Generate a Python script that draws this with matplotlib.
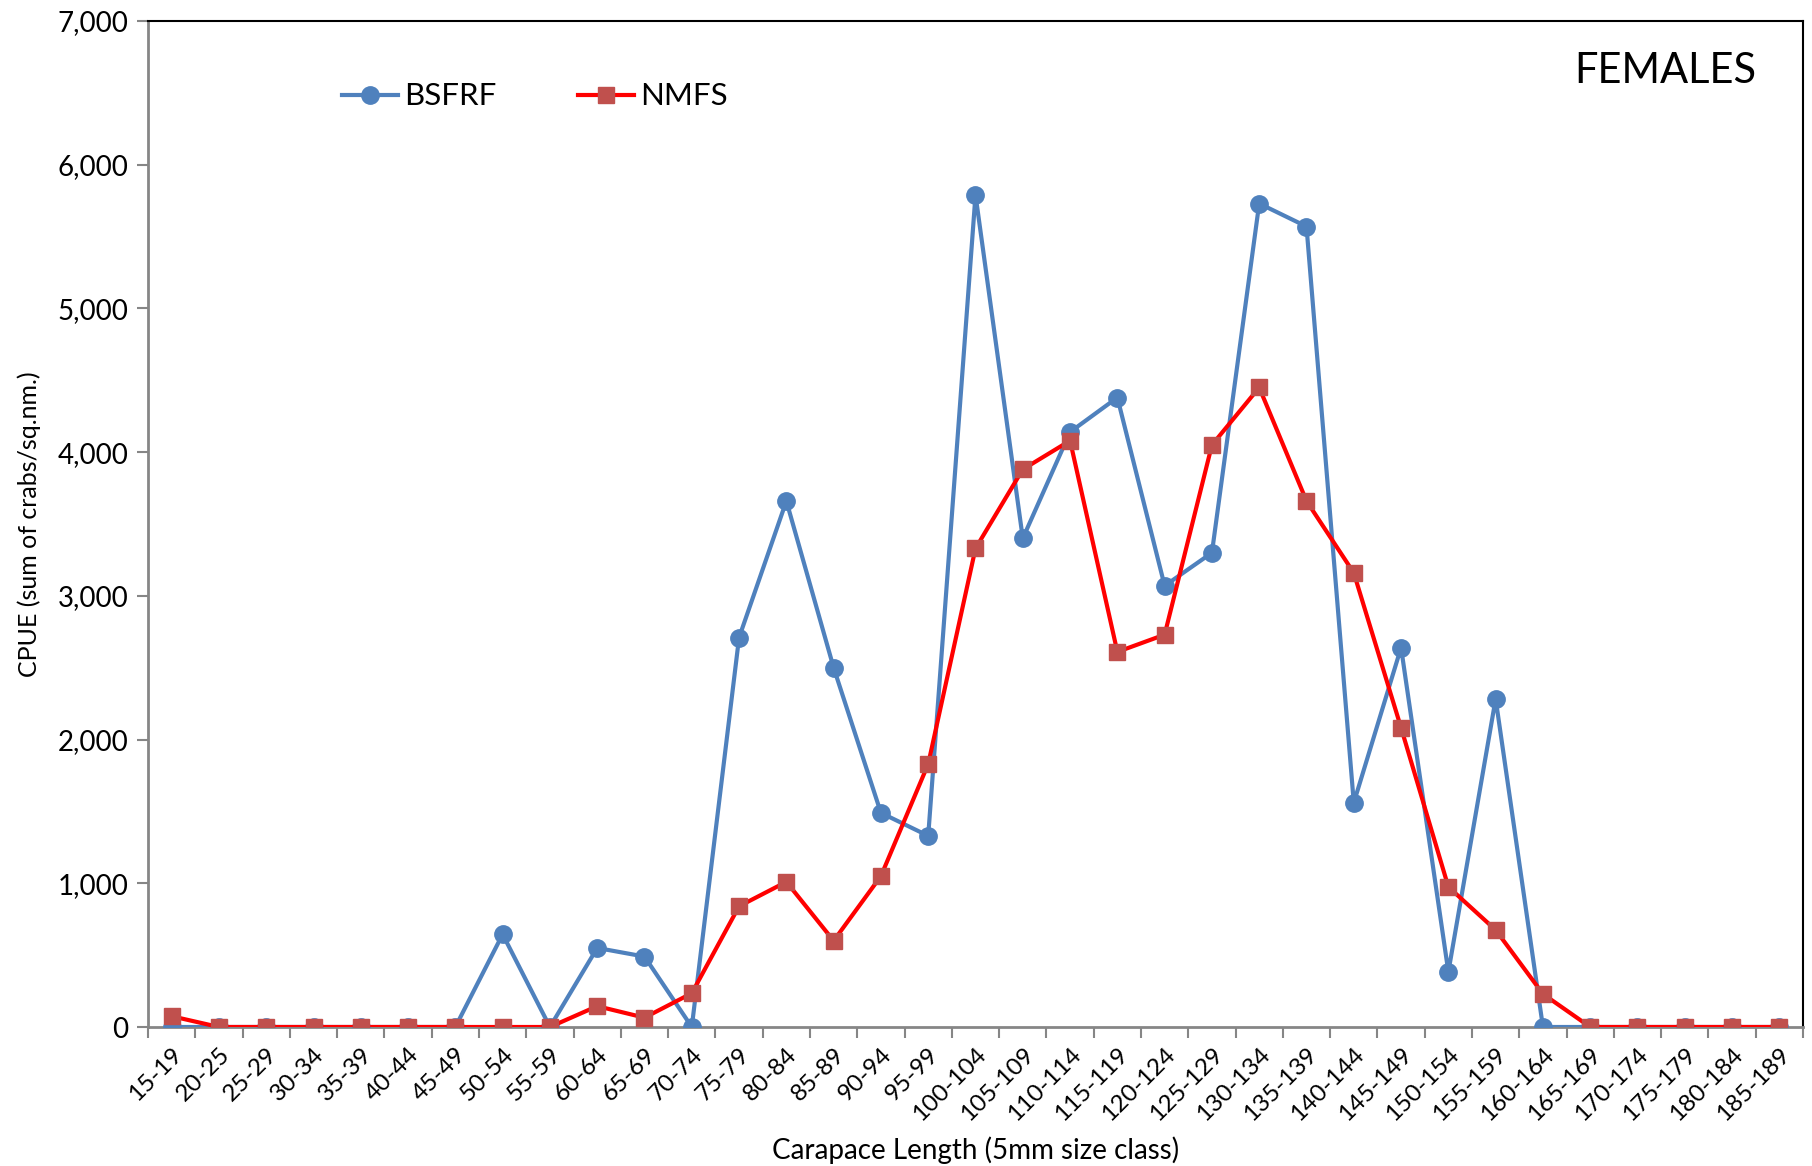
import matplotlib
matplotlib.use("Agg")
import matplotlib.pyplot as plt
from matplotlib.ticker import FuncFormatter, FixedLocator

plt.rcParams['font.family'] = ['Lato', 'DejaVu Sans']

# size classes (5 mm), as labelled in the original
size_class = ["15-19", "20-25", "25-29", "30-34", "35-39", "40-44", "45-49",
              "50-54", "55-59", "60-64", "65-69", "70-74", "75-79", "80-84",
              "85-89", "90-94", "95-99", "100-104", "105-109", "110-114",
              "115-119", "120-124", "125-129", "130-134", "135-139", "140-144",
              "145-149", "150-154", "155-159", "160-164", "165-169", "170-174",
              "175-179", "180-184", "185-189"]

bsfrf = [0, 0, 0, 0, 0, 0, 0, 645, 0, 550, 490, 0, 2710, 3660, 2500, 1490,
         1330, 5790, 3400, 4140, 4380, 3070, 3300, 5730, 5570, 1560, 2640,
         383, 2283, 0, 0, 0, 0, 0, 0]

nmfs = [75, 0, 0, 0, 0, 0, 0, 0, 0, 145, 65, 235, 840, 1010, 600, 1050,
        1830, 3330, 3880, 4080, 2610, 2730, 4050, 4450, 3660, 3160, 2082,
        975, 675, 230, 0, 0, 0, 0, 0]

fig = plt.figure(figsize=(18.12, 11.66), dpi=100)
ax = fig.add_axes([148/1812, 1 - 1027/1166, (1803-148)/1812, (1027-21)/1166])

x = list(range(len(size_class)))
ax.plot(x, bsfrf, color="#4F81BD", lw=3, marker="o", ms=12.5,
        mfc="#4F81BD", mec="#4F81BD", label="BSFRF", zorder=3)
ax.plot(x, nmfs, color="#FF0000", lw=3, marker="s", ms=11,
        mfc="#C0504D", mec="#C0504D", label="NMFS", zorder=4)

ax.set_xlim(-0.5, len(size_class) - 0.5)
ax.set_ylim(0, 7000)
ax.set_yticks(range(0, 7001, 1000))
ax.yaxis.set_major_formatter(FuncFormatter(lambda v, p: f"{int(v):,}"))

ax.set_xticks(x)
ax.set_xticklabels(size_class, rotation=45, ha="right", rotation_mode="anchor")
ax.xaxis.set_minor_locator(FixedLocator([i - 0.5 for i in range(len(size_class) + 1)]))
ax.tick_params(axis="x", which="major", length=0, labelsize=17.5, pad=12)
ax.tick_params(axis="x", which="minor", length=8, width=1.5, color="#868686", direction="out")
ax.tick_params(axis="y", length=8, width=1.5, color="#868686", labelsize=20, pad=6)

for s in ["top", "right"]:
    ax.spines[s].set_color("black")
    ax.spines[s].set_linewidth(1.5)
for s in ["left", "bottom"]:
    ax.spines[s].set_color("#868686")
    ax.spines[s].set_linewidth(2)

ax.set_xlabel("Carapace Length (5mm size class)", fontsize=20, labelpad=8)
ax.set_ylabel("CPUE (sum of crabs/sq.nm.)", fontsize=18, labelpad=12)

ax.text(0.972, 0.95, "FEMALES", transform=ax.transAxes, ha="right", va="center",
        fontsize=30)

ax.legend(loc="center left", bbox_to_anchor=(0.1, 0.925), ncol=2, frameon=False,
          fontsize=22.5, handlelength=1.8, handletextpad=0.2, columnspacing=2.6)

fig.savefig("out.png", dpi=100)
